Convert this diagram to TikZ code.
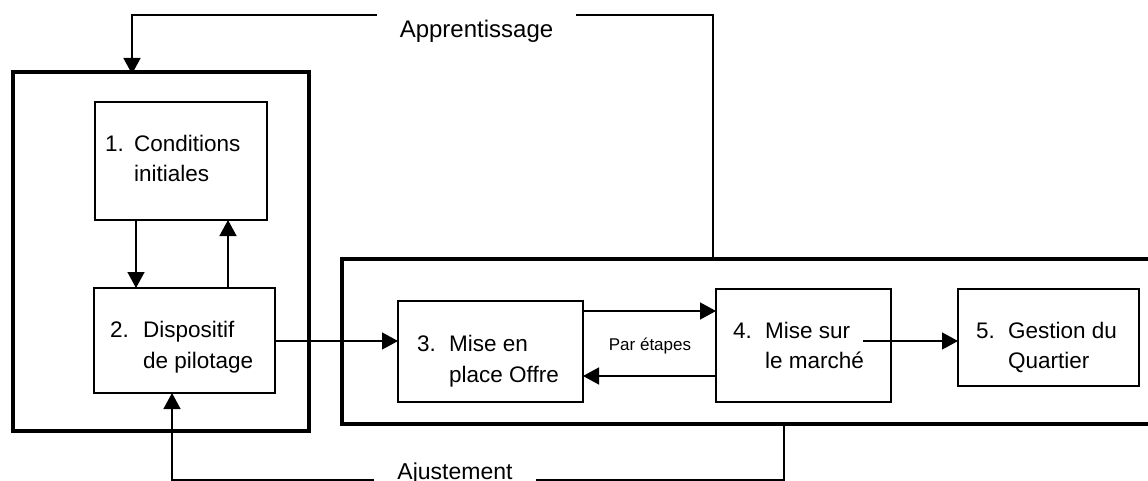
\documentclass[tikz,border=0pt]{standalone}
\usepackage{fontspec}
\setmainfont{Liberation Sans}
\usetikzlibrary{arrows.meta}
\tikzset{
  bigbox/.style={draw, line width=4.5pt, inner sep=0pt, outer sep=0pt},
  smallbox/.style={draw, line width=1.8pt, inner sep=0pt, outer sep=0pt},
  arr/.style={draw, line width=1.5pt, -{Triangle[length=16pt,width=17pt]}},
  ln/.style={draw, line width=1.5pt},
  txt/.style={anchor=base west, inner sep=0pt, font=\fontsize{22.5}{27}\selectfont},
  lbl/.style={anchor=base, inner xsep=23pt, inner ysep=0pt, font=\fontsize{24}{28}\selectfont},
  small/.style={anchor=base, inner sep=0pt, font=\fontsize{17}{20}\selectfont}
}
\begin{document}
\begin{tikzpicture}[x=1pt,y=-1pt]
\useasboundingbox (0,0) rectangle (1148,481);
\clip (0,0) rectangle (1148,481);
% big boxes
\node[bigbox, minimum width=296pt, minimum height=359pt] (lbig) at (161,251.5) {};
\node[bigbox, minimum width=828pt, minimum height=165pt] (rbig) at (756,341.5) {};
% small boxes
\node[smallbox, minimum width=172pt, minimum height=118pt] (b1) at (181,161) {};
\node[smallbox, minimum width=181pt, minimum height=105pt] (b2) at (184.5,340.5) {};
\node[smallbox, minimum width=185pt, minimum height=101pt] (b3) at (490.5,351.5) {};
\node[smallbox, minimum width=175pt, minimum height=113pt] (b4) at (803.5,345.5) {};
\node[smallbox, minimum width=181pt, minimum height=97pt] (b5) at (1048.5,337.5) {};
% texts
\node[txt] (n1) at (105,152) {1.};
\node[txt] (t1a) at (134,152) {Conditions};
\node[txt] (t1b) at (134,182) {initiales};
\node[txt] (n2) at (110,337) {2.};
\node[txt] (t2a) at (143,337) {Dispositif};
\node[txt] (t2b) at (143,368) {de pilotage};
\node[txt] (n3) at (417,351) {3.};
\node[txt] (t3a) at (449,351) {Mise en};
\node[txt] (t3b) at (449,382) {place Offre};
\node[txt] (n4) at (733,338) {4.};
\node[txt] (t4a) at (765,338) {Mise sur};
\node[txt] (t4b) at (765,368) {le marché};
\node[txt] (n5) at (976,338) {5.};
\node[txt] (t5a) at (1008,338) {Gestion du};
\node[txt] (t5b) at (1008,368) {Quartier};
\node[small] (pe) at (650,350) {Par étapes};
% loop labels
\node[lbl] (appr) at (476.5,38) {Apprentissage};
\node[lbl, font=\fontsize{23}{28}\selectfont] (ajus) at (455,479.5) {Ajustement};
% helper coordinates
\coordinate (x12) at (136,0);
\coordinate (x21) at (228,0);
\coordinate (y23) at (0,341);
\coordinate (y34) at (0,311);
\coordinate (y43) at (0,376);
\coordinate (s45) at (863,341);
\coordinate (ta) at (713,15);
\coordinate (tb) at (132,15);
\coordinate (ba) at (784,480);
\coordinate (bb) at (172,480);
% connectors
\draw[arr] (x12 |- b1.south) -- (x12 |- b2.north);
\draw[arr] (x21 |- b2.north) -- (x21 |- b1.south);
\draw[arr] (b2.east |- y23) -- (b3.west |- y23);
\draw[arr] (b3.east |- y34) -- (b4.west |- y34);
\draw[arr] (b4.west |- y43) -- (b3.east |- y43);
\draw[arr] (s45) -- (b5.west |- s45);
\draw[ln] (ta |- rbig.north) -- (ta) -- (appr.east |- ta);
\draw[arr] (appr.west |- tb) -- (tb) -- ([yshift=-2pt]tb |- lbig.north);
\draw[ln] (ba |- rbig.south) -- (ba) -- (ajus.east |- ba);
\draw[arr] (ajus.west |- bb) -- (bb) -- (bb |- b2.south);
\end{tikzpicture}
\end{document}
